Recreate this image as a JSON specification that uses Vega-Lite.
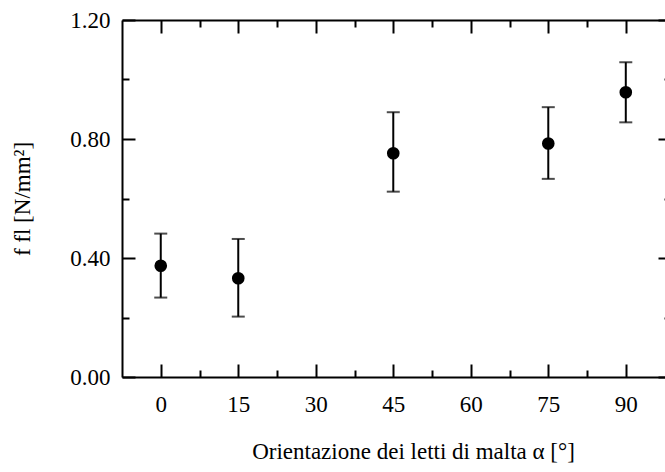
{
  "$schema": "https://vega.github.io/schema/vega-lite/v6.json",
  "autosize": {"type": "none"},
  "width": 549,
  "height": 357,
  "padding": {"left": 122, "top": 20, "right": -6, "bottom": 95},
  "background": "white",
  "data": {"values": [
    {"angle": 0, "mean": 0.374, "lo": 0.267, "hi": 0.482},
    {"angle": 15, "mean": 0.332, "lo": 0.203, "hi": 0.464},
    {"angle": 45, "mean": 0.752, "lo": 0.623, "hi": 0.890},
    {"angle": 75, "mean": 0.785, "lo": 0.666, "hi": 0.907},
    {"angle": 90, "mean": 0.957, "lo": 0.856, "hi": 1.058}
  ]},
  "config": {
    "view": {"stroke": null},
    "axis": {
      "grid": false,
      "domainColor": "black",
      "domainWidth": 2,
      "tickColor": "black",
      "tickWidth": 2,
      "labelFont": "Liberation Serif",
      "labelFontSize": 23,
      "labelColor": "black",
      "titleFont": "Liberation Serif",
      "titleFontSize": 23,
      "titleFontWeight": "normal",
      "titleColor": "black"
    }
  },
  "resolve": {"axis": {"x": "independent", "y": "independent"}},
  "layer": [
    {
      "mark": {"type": "rule", "color": "black", "strokeWidth": 2},
      "encoding": {
        "x": {"field": "angle", "type": "quantitative", "scale": {"domain": [-7.5, 98.75], "nice": false, "zero": false},
              "axis": {"orient": "bottom", "values": [0, 15, 30, 45, 60, 75, 90], "tickSize": -13, "labelPadding": 29, "title": "Orientazione dei letti di malta α [°]", "titlePadding": 24, "titleX": 291}},
        "y": {"field": "lo", "type": "quantitative", "scale": {"domain": [0, 1.2], "nice": false},
              "axis": {"orient": "left", "values": [0, 0.4, 0.8, 1.2], "format": ".2f", "tickSize": -13, "labelPadding": 25, "title": "f fl [N/mm²]", "titlePadding": 35}},
        "y2": {"field": "hi"}
      }
    },
    {
      "mark": {"type": "tick", "orient": "horizontal", "color": "black", "size": 13, "thickness": 2},
      "encoding": {
        "x": {"field": "angle", "type": "quantitative", "scale": {"domain": [-7.5, 98.75], "nice": false, "zero": false},
              "axis": {"orient": "bottom", "values": [7.5, 22.5, 37.5, 52.5, 67.5, 82.5], "tickSize": -7, "labels": false, "domain": false, "title": null}},
        "y": {"field": "lo", "type": "quantitative", "scale": {"domain": [0, 1.2], "nice": false},
              "axis": {"orient": "left", "values": [0.2, 0.6, 1.0], "tickSize": -7, "labels": false, "domain": false, "title": null}}
      }
    },
    {
      "mark": {"type": "tick", "orient": "horizontal", "color": "black", "size": 13, "thickness": 2},
      "encoding": {
        "x": {"field": "angle", "type": "quantitative", "scale": {"domain": [-7.5, 98.75], "nice": false, "zero": false},
              "axis": {"orient": "top", "values": [0, 15, 30, 45, 60, 75, 90], "tickSize": -13, "labels": false, "title": null}},
        "y": {"field": "hi", "type": "quantitative", "scale": {"domain": [0, 1.2], "nice": false},
              "axis": {"orient": "right", "values": [0, 0.4, 0.8, 1.2], "tickSize": -13, "labels": false, "title": null}}
      }
    },
    {
      "mark": {"type": "point", "filled": true, "color": "black", "opacity": 1, "size": 160},
      "encoding": {
        "x": {"field": "angle", "type": "quantitative", "scale": {"domain": [-7.5, 98.75], "nice": false, "zero": false},
              "axis": {"orient": "top", "values": [7.5, 22.5, 37.5, 52.5, 67.5, 82.5], "tickSize": -7, "labels": false, "domain": false, "title": null}},
        "y": {"field": "mean", "type": "quantitative", "scale": {"domain": [0, 1.2], "nice": false},
              "axis": {"orient": "right", "values": [0.2, 0.6, 1.0], "tickSize": -7, "labels": false, "domain": false, "title": null}}
      }
    }
  ]
}
